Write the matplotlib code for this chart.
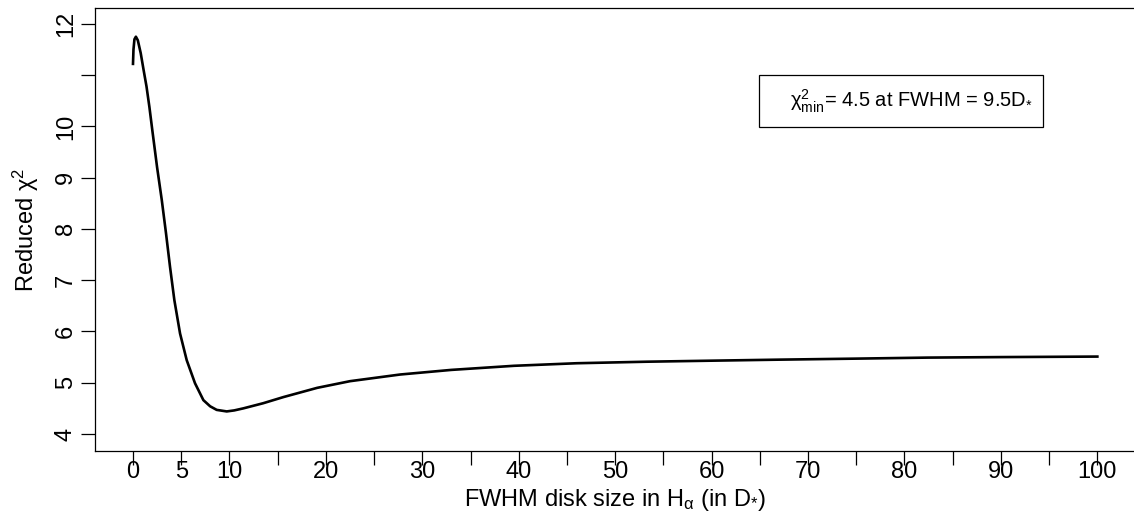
import matplotlib
matplotlib.use('Agg')
import matplotlib.pyplot as plt
from matplotlib.patches import Rectangle

# valeurs
fwhm = [0.0, 0.05, 0.15, 0.3, 0.5, 0.8, 1.1, 1.4, 1.7, 2.0, 2.5, 2.98, 3.42,
        3.84, 4.29, 4.88, 5.57, 6.43, 7.3, 8.0, 8.68, 9.72, 10.5, 11.45, 13.5,
        15.6, 19.1, 22.5, 27.7, 33.0, 39.5, 46.0, 53.3, 60.0, 67.0, 75.0, 82.4,
        90.0, 100.0]
chi2 = [11.22, 11.5, 11.7, 11.75, 11.68, 11.43, 11.1, 10.78, 10.38, 9.93, 9.2,
        8.57, 7.92, 7.26, 6.61, 5.96, 5.44, 4.99, 4.66, 4.54, 4.47, 4.44, 4.46,
        4.50, 4.60, 4.72, 4.90, 5.03, 5.16, 5.25, 5.33, 5.38, 5.41, 5.43, 5.45,
        5.47, 5.49, 5.50, 5.51]

xticks_lab = [0, 5, 10, 20, 30, 40, 50, 60, 70, 80, 90, 100]
xticks_nolab = [15, 25, 35, 45, 55, 65, 75, 85, 95]
yticks = [4, 5, 6, 7, 8, 9, 10, 11, 12]
yticklabels = ['4', '5', '6', '7', '8', '9', '10', '', '12']

plt.rcParams['font.family'] = ['Liberation Sans', 'DejaVu Sans']
plt.rcParams['mathtext.fontset'] = 'custom'
plt.rcParams['mathtext.rm'] = 'Liberation Sans'
plt.rcParams['mathtext.it'] = 'Liberation Sans'
plt.rcParams['mathtext.sf'] = 'Liberation Sans'
plt.rcParams['mathtext.default'] = 'regular'

fig = plt.figure(figsize=(11.34, 5.14), dpi=100)
ax = fig.add_axes([95 / 1134, 63 / 514, 1 - 95 / 1134, 443 / 514])

ax.plot(fwhm, chi2, color='black', lw=1.9, solid_joinstyle='round')

ax.set_xlim(-3.94, 103.8)
ax.set_ylim(3.668, 12.31)

xt = sorted(xticks_lab + xticks_nolab)
ax.set_xticks(xt)
ax.set_xticklabels([str(v) if v in xticks_lab else '' for v in xt])
ax.set_yticks(yticks)
ax.set_yticklabels(yticklabels, rotation=90, va='center')

ax.tick_params(axis='both', direction='out', length=10, width=0.9,
               labelsize=17, color='black')
ax.tick_params(axis='x', pad=-2.5)
ax.tick_params(axis='y', pad=3)

for s in ['left', 'bottom', 'top']:
    ax.spines[s].set_linewidth(0.9)
ax.spines['right'].set_visible(False)

ax.set_xlabel(r'FWHM disk size in H$_{\alpha}$ (in D$_{*}$)', fontsize=17, labelpad=2.3)
ax.set_ylabel(r'Reduced $\chi^{2}$', fontsize=17, labelpad=10)

# boîte de légende
ax.add_patch(Rectangle((0.639, 0.731), 0.273, 0.118, transform=ax.transAxes,
                       fill=False, edgecolor='black', lw=0.9))
ax.text(0.903, 0.790, r'$\chi^{2}_{min}$= 4.5 at FWHM = 9.5D$_{*}$',
        transform=ax.transAxes, ha='right', va='center', fontsize=14.5)

fig.savefig('out.png', dpi=100)
